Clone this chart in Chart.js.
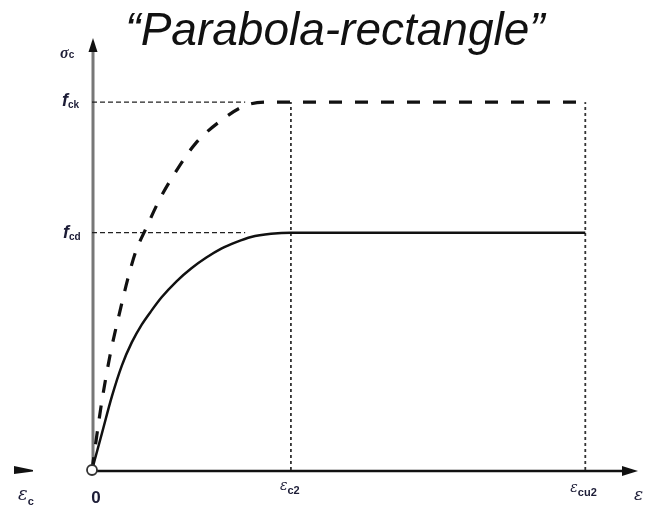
<!DOCTYPE html>
<html lang="en">
<head>
<meta charset="UTF-8">
<title>Parabola-rectangle</title>
<script src="https://cdn.jsdelivr.net/npm/chart.js"></script>
<style>
  html, body { margin: 0; padding: 0; background: #fff; }
  canvas { display: block; }
</style>
</head>
<body>
<canvas id="chart" width="645" height="512"></canvas>
<script>
// key strains and stresses of the diagram
const EPS_C2 = 2.0;
const EPS_CU2 = 4.96;
const F_CK = 31;
const F_CD = 20;
const GUIDE_END = 1.54;   // where the short dashed guides stop

// design curve (f_cd), solid
const designStrain = [0, 0.1, 0.2, 0.3, 0.4, 0.5, 0.6, 0.7, 0.85, 1.0, 1.15, 1.3, 1.45, 1.6, 1.8, 2.0, 4.96];
const designStress = [0, 3.1, 6.2, 8.8, 10.75, 12.25, 13.45, 14.55, 15.9, 17.0, 17.9, 18.65, 19.2, 19.63, 19.9, 20, 20];

// characteristic curve (f_ck), dashed
const charStrain = [0, 0.09, 0.18, 0.29, 0.36, 0.44, 0.54, 0.68, 0.84, 1.04, 1.29, 1.54, 1.79, 4.96];
const charStress = [0, 5.3, 9.6, 13.7, 16.1, 18.4, 20.3, 22.8, 25.1, 27.5, 29.4, 30.7, 31, 31];

const X_MAX = 5.49;
const Y_MAX = 36.4;

const pts = (xs, ys) => xs.map((v, i) => ({ x: v, y: ys[i] }));

// axes, arrows, labels and title
const decor = {
  id: 'decor',
  beforeDatasetsDraw(chart) {
    const { ctx, chartArea: a, scales: { x, y } } = chart;
    const x0 = x.getPixelForValue(0), y0 = y.getPixelForValue(0);
    ctx.save();
    // vertical axis
    ctx.strokeStyle = '#777';
    ctx.lineWidth = 3;
    ctx.beginPath();
    ctx.moveTo(x0 + 1, y0);
    ctx.lineTo(x0 + 1, a.top + 10);
    ctx.stroke();
    ctx.fillStyle = '#111';
    ctx.beginPath();
    ctx.moveTo(x0 + 1, a.top);
    ctx.lineTo(x0 + 5.5, a.top + 14);
    ctx.lineTo(x0 - 3.5, a.top + 14);
    ctx.closePath();
    ctx.fill();
    // horizontal axis
    ctx.strokeStyle = '#111';
    ctx.lineWidth = 2.5;
    ctx.beginPath();
    ctx.moveTo(x0, y0 + 1);
    ctx.lineTo(a.right - 12, y0 + 1);
    ctx.stroke();
    ctx.beginPath();
    ctx.moveTo(a.right, y0 + 1);
    ctx.lineTo(a.right - 16, y0 - 4);
    ctx.lineTo(a.right - 16, y0 + 6);
    ctx.closePath();
    ctx.fill();
    // arrow tip at the left edge
    ctx.beginPath();
    ctx.moveTo(x0 - 78, y0 - 4);
    ctx.lineTo(x0 - 59, y0);
    ctx.lineTo(x0 - 59, y0 + 1.5);
    ctx.lineTo(x0 - 78, y0 + 4);
    ctx.closePath();
    ctx.fill();
    ctx.restore();
  },
  afterDraw(chart) {
    const { ctx, chartArea: a, scales: { x, y } } = chart;
    const x0 = x.getPixelForValue(0), y0 = y.getPixelForValue(0);
    ctx.save();
    // origin marker
    ctx.beginPath();
    ctx.arc(x0, y0, 5, 0, Math.PI * 2);
    ctx.fillStyle = '#fff';
    ctx.fill();
    ctx.lineWidth = 1.8;
    ctx.strokeStyle = '#333';
    ctx.stroke();

    const ink = '#1c1c36';
    const sub = (main, mainFont, low, lowFont, px, py, dy) => {
      ctx.font = mainFont;
      ctx.fillText(main, px, py);
      const w = ctx.measureText(main).width;
      ctx.font = lowFont;
      ctx.fillText(low, px + w, py + dy);
    };
    ctx.fillStyle = ink;
    ctx.textBaseline = 'alphabetic';
    ctx.textAlign = 'left';

    // vertical axis labels
    sub('σ', 'bold italic 16px "Liberation Serif"', 'c', 'bold 10px "Liberation Sans"', x0 - 32, a.top + 20, 0);
    sub('f', 'bold italic 18px "Liberation Sans"', 'ck', 'bold 10px "Liberation Sans"', x0 - 30, y.getPixelForValue(F_CK) + 4, 2);
    sub('f', 'bold italic 18px "Liberation Sans"', 'cd', 'bold 10px "Liberation Sans"', x0 - 29, y.getPixelForValue(F_CD) + 5, 2);

    // horizontal axis labels
    ctx.font = 'bold 17px "Liberation Sans"';
    ctx.textAlign = 'center';
    ctx.fillText('0', x0 + 4, y0 + 33);
    ctx.textAlign = 'left';
    sub('ε', 'italic 18px "DejaVu Serif"', 'c', 'bold 11px "Liberation Sans"', x0 - 74, y0 + 30, 5);
    sub('ε', 'italic 14px "DejaVu Serif"', 'c2', 'bold 11px "Liberation Sans"', x.getPixelForValue(EPS_C2) - 11, y0 + 20, 4);
    sub('ε', 'italic 14px "DejaVu Serif"', 'cu2', 'bold 11px "Liberation Sans"', x.getPixelForValue(EPS_CU2) - 15, y0 + 22, 4);
    ctx.font = 'italic 17px "DejaVu Serif"';
    ctx.fillText('ε', a.right - 4, y0 + 30);

    // title
    ctx.fillStyle = '#111';
    ctx.font = 'italic 46px "Liberation Sans"';
    ctx.textAlign = 'center';
    ctx.fillText('\u201CParabola-rectangle\u201D', 335, 45);
    ctx.restore();
  }
};

new Chart(document.getElementById('chart'), {
  type: 'scatter',
  data: {
    datasets: [
      {
        data: pts(designStrain, designStress),
        showLine: true,
        borderColor: '#111',
        borderWidth: 2.5,
        cubicInterpolationMode: 'monotone',
        pointRadius: 0,
        clip: false
      },
      {
        data: pts(charStrain, charStress),
        showLine: true,
        borderColor: '#111',
        borderWidth: 3.2,
        borderDash: [13, 13],
        cubicInterpolationMode: 'monotone',
        pointRadius: 0,
        clip: false
      },
      {
        data: [{ x: 0, y: F_CK }, { x: GUIDE_END, y: F_CK }],
        showLine: true,
        borderColor: '#222',
        borderWidth: 1.4,
        borderDash: [5, 3],
        pointRadius: 0
      },
      {
        data: [{ x: 0, y: F_CD }, { x: GUIDE_END, y: F_CD }],
        showLine: true,
        borderColor: '#222',
        borderWidth: 1.4,
        borderDash: [5, 3],
        pointRadius: 0
      },
      {
        data: [{ x: EPS_C2, y: 0 }, { x: EPS_C2, y: F_CK }],
        showLine: true,
        borderColor: '#333',
        borderWidth: 1.8,
        borderDash: [3, 3],
        pointRadius: 0
      },
      {
        data: [{ x: EPS_CU2, y: 0 }, { x: EPS_CU2, y: F_CK }],
        showLine: true,
        borderColor: '#333',
        borderWidth: 1.8,
        borderDash: [3, 3],
        pointRadius: 0
      }
    ]
  },
  options: {
    responsive: false,
    animation: false,
    devicePixelRatio: 1,
    layout: { padding: { left: 92, right: 7, top: 38, bottom: 42 } },
    plugins: { legend: { display: false }, tooltip: { enabled: false }, title: { display: false } },
    scales: {
      x: { type: 'linear', min: 0, max: X_MAX, display: false },
      y: { type: 'linear', min: 0, max: Y_MAX, display: false }
    }
  },
  plugins: [decor]
});
</script>
</body>
</html>
